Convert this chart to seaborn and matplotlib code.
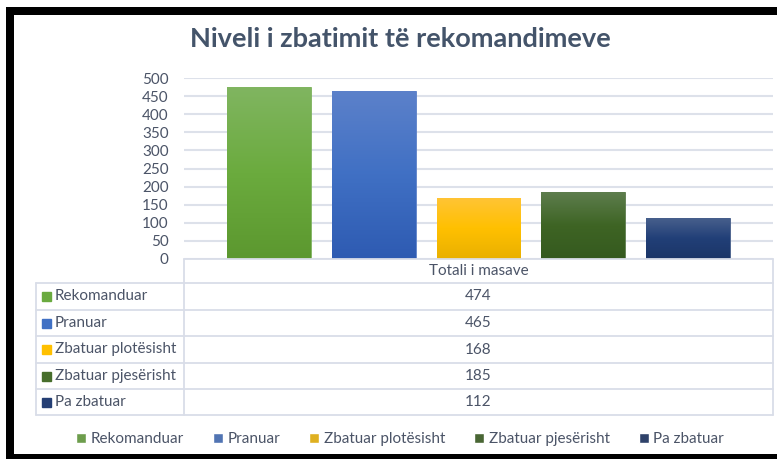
import numpy as np
import pandas as pd
import matplotlib.pyplot as plt
import seaborn as sns
from matplotlib.patches import Rectangle
from matplotlib.colors import LinearSegmentedColormap

# data
kategoria = "Totali i masave"
statuset = ["Rekomanduar", "Pranuar", "Zbatuar plotësisht", "Zbatuar pjesërisht", "Pa zbatuar"]
vlerat = [474, 465, 168, 185, 112]
yticks = [0, 50, 100, 150, 200, 250, 300, 350, 400, 450, 500]

# colours (solid + top/mid/bottom for the gradient)
ngjyrat = ["#6AAA3F", "#4070C4", "#FFC000", "#476E2C", "#253F74"]
gradient = [
    ["#80B560", "#6BAB3E", "#5C982F"],
    ["#5C81CA", "#4070C4", "#2E5BB2"],
    ["#FFC434", "#FFC000", "#E9B000"],
    ["#5D7D4D", "#3E6424", "#355A1F"],
    ["#475F8C", "#213F77", "#1C3668"],
]
text_col = "#4B5467"
title_col = "#44546A"
grid_col = "#DDE1EA"
fs = 11

df = pd.DataFrame({"grupi": [kategoria] * len(statuset), "statusi": statuset, "vlera": vlerat})

sns.set_style("white")
plt.rcParams["font.family"] = ["Lato", "DejaVu Sans"]

W, H = 777, 459
fig = plt.figure(figsize=(W / 100, H / 100), dpi=100)

# plot area in pixel terms
x0, x1, ytop, ybot = 184, 773, 78, 259
ax = fig.add_axes([x0 / W, 1 - ybot / H, (x1 - x0) / W, (ybot - ytop) / H])
sns.barplot(data=df, x="grupi", y="vlera", hue="statusi", hue_order=statuset,
            palette=ngjyrat, width=0.89, gap=0.2, ax=ax, legend=True)

# vertical gradient on each bar
for patch, cols in zip(ax.patches, gradient):
    bx, by = patch.get_x(), patch.get_y()
    bw, bh = patch.get_width(), patch.get_height()
    if bh <= 0:
        continue
    cmap = LinearSegmentedColormap.from_list("g", cols[::-1])
    grad = np.linspace(0, 1, 100).reshape(-1, 1)
    im = ax.imshow(grad, extent=[bx, bx + bw, by, by + bh], origin="lower",
                   cmap=cmap, aspect="auto", zorder=patch.get_zorder() + 0.1)
    im.set_clip_path(patch)
    patch.set_edgecolor(cols[0])
    patch.set_linewidth(0.6)

ax.set_xlim(-0.5, 0.5)
ax.set_ylim(0, 500)
ax.set_yticks(yticks)
ax.set_yticklabels([str(t) for t in yticks], fontsize=fs, color=text_col)
ax.tick_params(axis="y", length=0, pad=11)
ax.set_xticks([])
ax.set_xlabel("")
ax.set_ylabel("")
ax.yaxis.grid(True, color=grid_col, linewidth=1.5)
ax.set_axisbelow(True)
for s in ax.spines.values():
    s.set_visible(False)

handles, labels = ax.get_legend_handles_labels()
ax.get_legend().remove()
fig.legend(handles, labels, loc="center", bbox_to_anchor=(400 / W, 1 - 439 / H), ncol=5,
           frameon=False, fontsize=fs, handlelength=0.65, handleheight=0.65,
           handletextpad=0.3, columnspacing=1.9, labelcolor=text_col)

# overlay in pixel coordinates: data table and outer frame
ov = fig.add_axes([0, 0, 1, 1])
ov.set_xlim(0, W)
ov.set_ylim(H, 0)
ov.axis("off")
ov.patch.set_alpha(0)

row_lines = [283, 310, 336, 363, 389, 415]
lc = "#D9DDE8"
ov.plot([x0, x1], [ybot, ybot], color=lc, lw=1.3)
for yl in row_lines:
    ov.plot([36, x1], [yl, yl], color=lc, lw=1.3)
ov.plot([36, 36], [283, 415], color=lc, lw=1.3)
ov.plot([x0, x0], [ybot, 415], color=lc, lw=1.3)
ov.plot([x1, x1], [ybot, 415], color=lc, lw=1.3)

xc = (x0 + x1) / 2
ov.text(xc, (ybot + 283) / 2, kategoria, ha="center", va="center", fontsize=fs, color=text_col)
for i, (lab, val, col) in enumerate(zip(statuset, vlerat, ngjyrat)):
    yc = (row_lines[i] + row_lines[i + 1]) / 2
    ov.add_patch(Rectangle((41.5, yc - 4.5), 9, 9, color=col))
    ov.text(55, yc, lab, ha="left", va="center", fontsize=fs, color=text_col)
    ov.text(xc, yc, str(val), ha="center", va="center", fontsize=fs, color=text_col)

# title
ov.text(400, 39, "Niveli i zbatimit të rekomandimeve", ha="center", va="center",
        fontsize=19.5, fontweight="bold", color=title_col)

# black frame
ov.add_patch(Rectangle((6, 7), 8, H - 7, color="black", lw=0))
ov.add_patch(Rectangle((6, 7), W - 6, 8, color="black", lw=0))
ov.add_patch(Rectangle((6, 454), W - 6, 6, color="black", lw=0))

fig.savefig("out.png", dpi=100)
